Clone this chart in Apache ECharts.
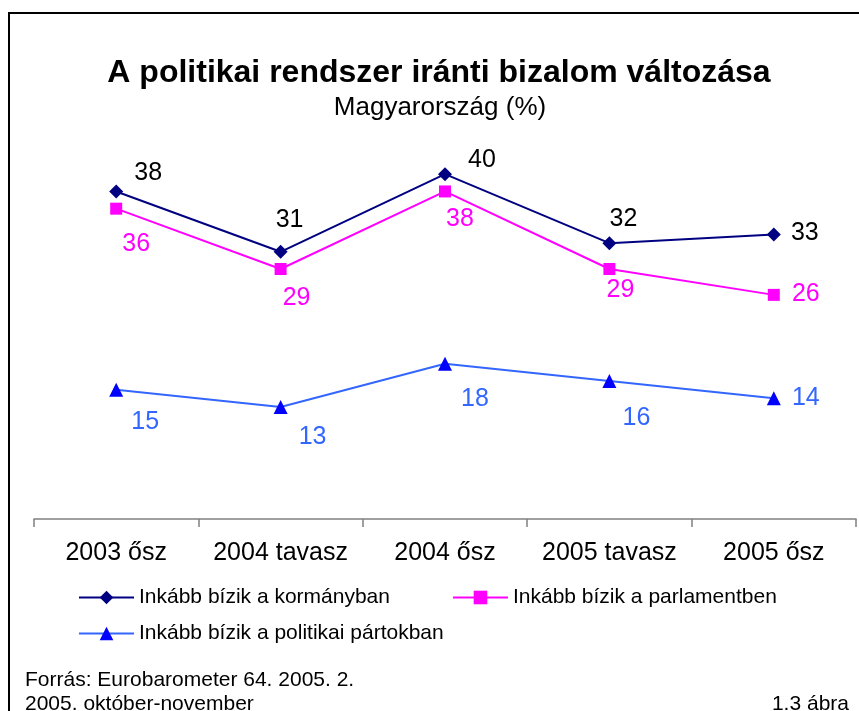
<!DOCTYPE html>
<html>
<head>
<meta charset="utf-8">
<script src="https://cdn.jsdelivr.net/npm/echarts@6/dist/echarts.min.js"></script>
<style>
  html, body { margin: 0; padding: 0; background: #fff; }
  #chart { width: 859px; height: 711px; }
</style>
</head>
<body>
<div id="chart"></div>
<script>
const categories = ['2003 ősz', '2004 tavasz', '2004 ősz', '2005 tavasz', '2005 ősz'];
const kormany = [38, 31, 40, 32, 33];
const parlament = [36, 29, 38, 29, 26];
const partok = [15, 13, 18, 16, 14];

const seriesNames = [
    'Inkább bízik a kormányban',
    'Inkább bízik a parlamentben',
    'Inkább bízik a politikai pártokban'
];

// label placement around each point (dx, dy from the marker centre)
const kormanyOffsets = [[32, -18], [9, -32], [37, -14], [14, -24], [31, -1]];
const parlamentOffsets = [[20, 35], [16, 29], [15, 28], [11, 21], [32, -1]];
const partokOffsets = [[29, 32], [32, 30], [30, 35], [27, 37], [32, 0]];

const FONT = '"Liberation Sans", Arial, sans-serif';

const withLabels = (values, offsets) => values.map((v, i) => ({
    value: v,
    label: { offset: offsets[i] }
}));

const chart = echarts.init(document.getElementById('chart'));

const labelBase = color => ({
    show: true,
    position: 'inside',
    align: 'center',
    verticalAlign: 'middle',
    color: color,
    fontSize: 25,
    fontFamily: FONT
});

const legendText = { fontSize: 21, fontFamily: FONT, color: '#000' };

chart.setOption({
    animation: false,
    backgroundColor: '#fff',
    grid: { left: 34, right: 3, top: 88, bottom: 192 },
    xAxis: {
        type: 'category',
        data: categories,
        boundaryGap: true,
        axisLine: { lineStyle: { color: '#808080', width: 1.5 } },
        axisTick: { show: true, interval: 0, length: 8, lineStyle: { color: '#808080', width: 1.5 } },
        axisLabel: { interval: 0, color: '#000', fontSize: 25, fontFamily: FONT, margin: 22 }
    },
    yAxis: {
        type: 'value', min: 0, max: 50, show: false,
        splitLine: { show: false }
    },
    legend: [{
        data: [seriesNames[0], seriesNames[1]],
        left: 78, top: 587, padding: 0,
        itemWidth: 55, itemHeight: 17, itemGap: 62,
        textStyle: legendText
    }, {
        data: [seriesNames[2]],
        left: 78, top: 623, padding: 0,
        itemWidth: 55, itemHeight: 17,
        textStyle: legendText
    }],
    graphic: [
        {
            type: 'rect', silent: true,
            shape: { x: 9, y: 13, width: 870, height: 720 },
            style: { fill: 'none', stroke: '#000', lineWidth: 2 }
        },
        {
            type: 'text', x: 439, y: 73,
            style: {
                text: 'A politikai rendszer iránti bizalom változása',
                fontSize: 32, fontWeight: 'bold', fontFamily: FONT,
                fill: '#000', align: 'center', verticalAlign: 'middle'
            }
        },
        {
            type: 'text', x: 440, y: 108,
            style: {
                text: 'Magyarország (%)',
                fontSize: 26, fontFamily: FONT,
                fill: '#000', align: 'center', verticalAlign: 'middle'
            }
        },
        {
            type: 'text', x: 25, y: 680,
            style: {
                text: 'Forrás: Eurobarometer 64. 2005. 2.',
                fontSize: 21, fontFamily: FONT, fill: '#000', verticalAlign: 'middle'
            }
        },
        {
            type: 'text', x: 25, y: 704,
            style: {
                text: '2005. október-november',
                fontSize: 21, fontFamily: FONT, fill: '#000', verticalAlign: 'middle'
            }
        },
        {
            type: 'text', x: 849, y: 704,
            style: {
                text: '1.3 ábra',
                fontSize: 21, fontFamily: FONT, fill: '#000',
                align: 'right', verticalAlign: 'middle'
            }
        }
    ],
    series: [
        {
            name: seriesNames[0],
            type: 'line',
            data: withLabels(kormany, kormanyOffsets),
            symbol: 'diamond', symbolSize: 14,
            lineStyle: { color: '#000080', width: 2 },
            itemStyle: { color: '#000080' },
            label: labelBase('#000')
        },
        {
            name: seriesNames[1],
            type: 'line',
            data: withLabels(parlament, parlamentOffsets),
            symbol: 'rect', symbolSize: 12,
            lineStyle: { color: '#FF00FF', width: 2 },
            itemStyle: { color: '#FF00FF' },
            label: labelBase('#FF00FF')
        },
        {
            name: seriesNames[2],
            type: 'line',
            data: withLabels(partok, partokOffsets),
            symbol: 'triangle', symbolSize: 14,
            lineStyle: { color: '#3366FF', width: 2 },
            itemStyle: { color: '#0000FF' },
            label: labelBase('#3366FF')
        }
    ]
});
</script>
</body>
</html>
